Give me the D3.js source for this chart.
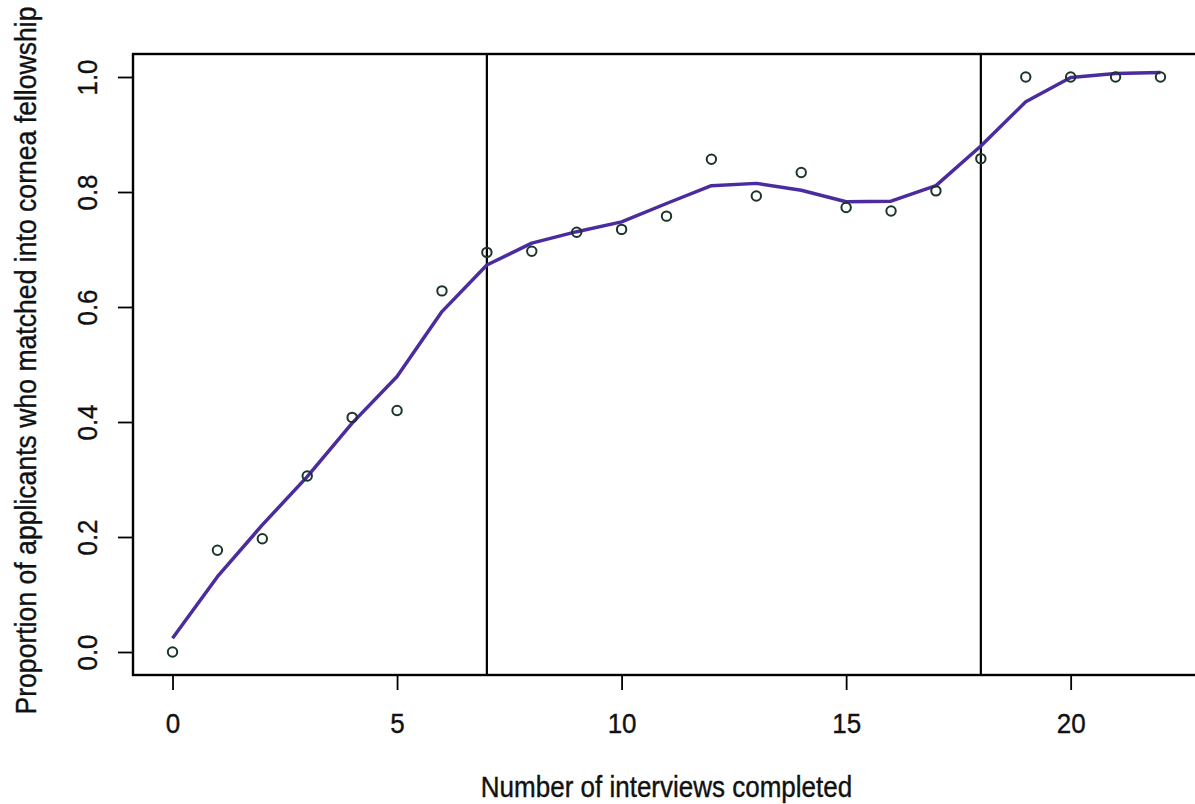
<!DOCTYPE html>
<html>
<head>
<meta charset="utf-8">
<script src="https://cdn.jsdelivr.net/npm/d3@7"></script>
<style>
	body { margin: 0; background: #fff; }
	svg { display: block; font-family: "Liberation Sans", Arial, sans-serif; }
	text { fill: #111; stroke: #111; stroke-width: 0.35px; }
</style>
</head>
<body>
<script>
// values
var interviews = [0, 1, 2, 3, 4, 5, 6, 7, 8, 9, 10, 11, 12, 13, 14, 15, 16, 17, 18, 19, 20, 21, 22];
var proportions = [0.0, 0.177, 0.197, 0.306, 0.408, 0.420, 0.628, 0.695, 0.697, 0.730, 0.735,
	0.758, 0.857, 0.793, 0.834, 0.773, 0.767, 0.802, 0.858, 1.0, 1.0, 1.0, 1.0];
var fitted = [0.024, 0.131, 0.221, 0.305, 0.398, 0.479, 0.592, 0.673, 0.711, 0.731, 0.748,
	0.780, 0.811, 0.815, 0.803, 0.783, 0.784, 0.811, 0.880, 0.957, 0.999, 1.006, 1.008];
var cutoffs = [7, 18];
var xTicks = [0, 5, 10, 15, 20];
var yTicks = [0.0, 0.2, 0.4, 0.6, 0.8, 1.0];

var width = 1195,
	height = 804;

var plotLeft = 133, plotRight = 1200, plotTop = 54, plotBottom = 675;

var x = d3.scaleLinear()
	.domain([-0.88, 22.88])
	.range([plotLeft, plotRight]);

var y = d3.scaleLinear()
	.domain([-0.04, 1.04])
	.range([plotBottom, plotTop]);

var svg = d3.select('body').append('svg')
	.attr('width', width)
	.attr('height', height);

// x axis
var xAxis = svg.append('g')
	.attr('transform', 'translate(0,' + plotBottom + ')')
	.call(d3.axisBottom(x)
		.tickValues(xTicks)
		.tickSize(15)
		.tickFormat(d3.format('d')));
xAxis.select('.domain').remove();
xAxis.selectAll('line').attr('stroke', '#000').attr('stroke-width', 1.8);
xAxis.selectAll('text')
	.attr('y', null)
	.attr('dy', null)
	.attr('transform', 'translate(0,' + (733 - plotBottom) + ') scale(1,1.08)')
	.style('font-size', '26px');

// y axis, labels turned like R does
var yAxis = svg.append('g')
	.attr('transform', 'translate(' + plotLeft + ',0)')
	.call(d3.axisLeft(y)
		.tickValues(yTicks)
		.tickSize(15)
		.tickFormat(d3.format('.1f')));
yAxis.select('.domain').remove();
yAxis.selectAll('line').attr('stroke', '#000').attr('stroke-width', 1.8);
yAxis.selectAll('text')
	.attr('x', null)
	.attr('dy', null)
	.attr('text-anchor', 'middle')
	.attr('transform', 'translate(-36,0) rotate(-90) scale(1,1.08)')
	.style('font-size', '26px');

// vertical reference lines
svg.append('g')
	.selectAll('line')
	.data(cutoffs)
	.enter().append('line')
	.attr('x1', function(d) { return x(d); })
	.attr('x2', function(d) { return x(d); })
	.attr('y1', plotTop)
	.attr('y2', plotBottom)
	.attr('stroke', '#000')
	.attr('stroke-width', 2.2);

// smoothed fit
var line = d3.line()
	.x(function(d, i) { return x(interviews[i]); })
	.y(function(d) { return y(d); });

svg.append('path')
	.attr('d', line(fitted))
	.attr('fill', 'none')
	.attr('stroke', '#4a2c9e')
	.attr('stroke-width', 3.5)
	.attr('stroke-linejoin', 'round');

// observed points
svg.append('g')
	.selectAll('circle')
	.data(proportions)
	.enter().append('circle')
	.attr('cx', function(d, i) { return x(interviews[i]); })
	.attr('cy', function(d) { return y(d); })
	.attr('r', 4.7)
	.attr('fill', 'none')
	.attr('stroke', '#1b3529')
	.attr('stroke-width', 2);

// plot box
svg.append('rect')
	.attr('x', plotLeft)
	.attr('y', plotTop)
	.attr('width', plotRight - plotLeft)
	.attr('height', plotBottom - plotTop)
	.attr('fill', 'none')
	.attr('stroke', '#000')
	.attr('stroke-width', 2.4);

// titles
svg.append('text')
	.attr('transform', 'translate(' + (plotLeft + plotRight) / 2 + ',797) scale(1,1.1)')
	.attr('text-anchor', 'middle')
	.style('font-size', '26px')
	.text('Number of interviews completed');

svg.append('text')
	.attr('transform', 'translate(36,' + ((plotTop + plotBottom) / 2 - 4) + ') rotate(-90) scale(1,1.1)')
	.attr('text-anchor', 'middle')
	.style('font-size', '26.6px')
	.text('Proportion of applicants who matched into cornea fellowship');
</script>
</body>
</html>
